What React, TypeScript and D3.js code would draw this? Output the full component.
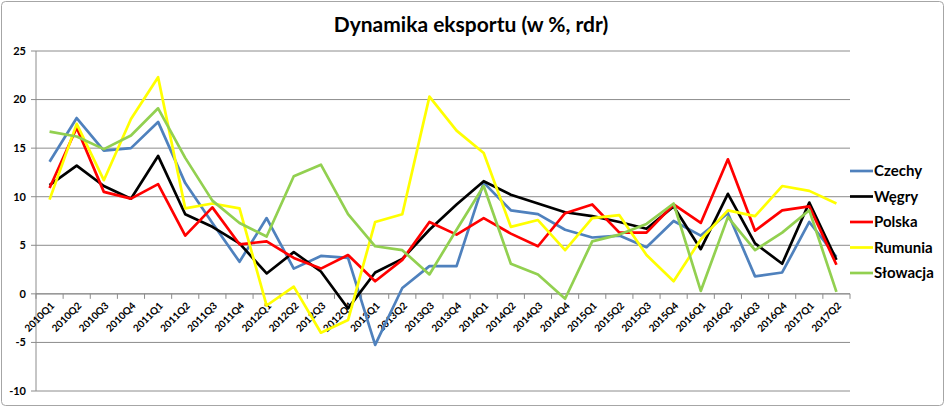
import React from "react";
import * as d3 from "d3";

const categories = [
  "2010Q1","2010Q2","2010Q3","2010Q4","2011Q1","2011Q2","2011Q3","2011Q4",
  "2012Q1","2012Q2","2012Q3","2012Q4","2013Q1","2013Q2","2013Q3","2013Q4",
  "2014Q1","2014Q2","2014Q3","2014Q4","2015Q1","2015Q2","2015Q3","2015Q4",
  "2016Q1","2016Q2","2016Q3","2016Q4","2017Q1","2017Q2",
];

const czechy = [13.6, 18.1, 14.75, 15.0, 17.7, 11.4, 7.3, 3.3, 7.8, 2.6, 3.9, 3.7, -5.25, 0.6, 2.85, 2.85, 11.45, 8.6, 8.2, 6.6, 5.8, 6.0, 4.8, 7.5, 6.0, 8.3, 1.8, 2.2, 7.4, 3.8];
const wegry = [11.2, 13.2, 11.1, 9.8, 14.2, 8.2, 6.9, 5.2, 2.1, 4.3, 2.3, -1.5, 2.2, 3.6, 6.6, 9.2, 11.6, 10.2, 9.3, 8.4, 8.0, 7.4, 6.7, 9.0, 4.6, 10.3, 5.2, 3.1, 9.4, 3.5];
const polska = [10.9, 17.1, 10.5, 9.8, 11.3, 6.0, 8.9, 5.1, 5.4, 3.7, 2.6, 4.0, 1.3, 3.5, 7.4, 6.1, 7.8, 6.2, 4.9, 8.3, 9.2, 6.3, 6.3, 9.2, 7.3, 13.85, 6.5, 8.6, 9.0, 3.0];
const rumunia = [9.7, 17.5, 11.7, 18.0, 22.3, 8.8, 9.3, 8.8, -1.2, 0.75, -4.0, -2.7, 7.4, 8.2, 20.3, 16.8, 14.5, 6.9, 7.6, 4.5, 7.8, 8.1, 4.0, 1.3, 5.6, 8.6, 8.0, 11.1, 10.6, 9.3];
const slowacja = [16.7, 16.2, 14.9, 16.3, 19.1, 14.0, 9.6, 7.3, 5.9, 12.1, 13.3, 8.2, 4.9, 4.5, 2.0, 6.6, 11.1, 3.1, 2.0, -0.5, 5.4, 6.1, 7.2, 9.3, 0.3, 7.9, 4.5, 6.3, 8.6, 0.2];

const yTicks = [-10, -5, 0, 5, 10, 15, 20, 25];

const seriesNames = ["Czechy", "Węgry", "Polska", "Rumunia", "Słowacja"];
const seriesValues = [czechy, wegry, polska, rumunia, slowacja];
const seriesColors = ["#4F81BD", "#000000", "#FF0000", "#FFFF00", "#92D050"];

const title = "Dynamika eksportu (w %, rdr)";

export default function App() {
  const W = 945, H = 407;
  const left = 36, right = 850, top = 51, bottom = 391;
  const x = d3.scaleBand<string>().domain(categories).range([left, right]);
  const y = d3.scaleLinear().domain([-10, 25]).range([bottom, top]);
  const cx = (c: string) => (x(c) as number) + x.bandwidth() / 2;
  const y0 = y(0);
  const line = d3
    .line<number>()
    .x((_, i) => cx(categories[i]))
    .y((v) => y(v));
  const font = "Lato, 'Open Sans', sans-serif";

  return (
    <svg width={W} height={H} style={{ position: "absolute", left: 0, top: 0, background: "#fff" }} fontFamily={font}>
      <rect x={1.5} y={1.5} width={W - 3} height={H - 3} rx={4} fill="#fff" stroke="#a6a6a6" strokeWidth={1} />
      <text x={471} y={32} textAnchor="middle" fontSize={21} fontWeight="bold" fill="#000">{title}</text>
      {yTicks.map((t) => (
        <g key={t}>
          <line x1={left} x2={right} y1={y(t)} y2={y(t)} stroke="#8c8c8c" strokeWidth={1} />
          <line x1={left - 5} x2={left} y1={y(t)} y2={y(t)} stroke="#8c8c8c" strokeWidth={1} />
          <text x={26} y={y(t)} dy="0.35em" textAnchor="end" fontSize={11} fontWeight="bold" fill="#000">{t}</text>
        </g>
      ))}
      <line x1={left} x2={left} y1={top} y2={bottom} stroke="#8c8c8c" strokeWidth={1} />
      <line x1={left} x2={right} y1={y0} y2={y0} stroke="#8c8c8c" strokeWidth={1} />
      {categories.map((c, i) => (
        <line key={"t" + i} x1={x(c) as number} x2={x(c) as number} y1={y0} y2={y0 + 5} stroke="#8c8c8c" strokeWidth={1} />
      ))}
      <line x1={right} x2={right} y1={y0} y2={y0 + 5} stroke="#8c8c8c" strokeWidth={1} />
      {categories.map((c) => (
        <text
          key={c}
          transform={`translate(${cx(c) + 3},${y0 + 10}) rotate(-45)`}
          textAnchor="end"
          dy="0.35em"
          fontSize={10}
          fontWeight="bold"
          fill="#000"
        >
          {c}
        </text>
      ))}
      {seriesValues.map((vals, k) => (
        <path key={seriesNames[k]} d={line(vals) || ""} fill="none" stroke={seriesColors[k]} strokeWidth={2.7} strokeLinejoin="round" />
      ))}
      {seriesNames.map((n, k) => {
        const ly = 171 + k * 25.5;
        return (
          <g key={n}>
            <line x1={850} x2={873} y1={ly} y2={ly} stroke={seriesColors[k]} strokeWidth={2.7} />
            <text x={874} y={ly} dy="0.35em" fontSize={15} fontWeight="bold" fill="#000">{n}</text>
          </g>
        );
      })}
    </svg>
  );
}
